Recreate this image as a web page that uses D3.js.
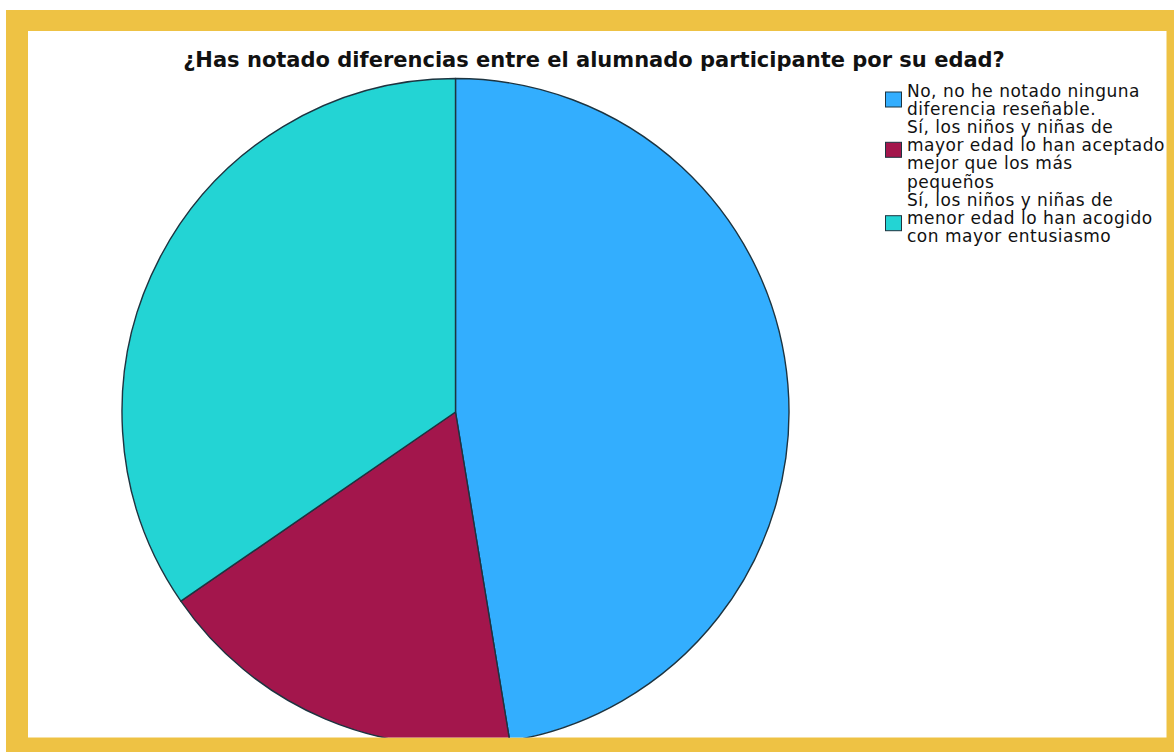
<!DOCTYPE html>
<html>
<head>
<meta charset="utf-8">
<script src="https://cdn.jsdelivr.net/npm/d3@7"></script>
<style>
  html, body { margin: 0; padding: 0; background: #ffffff; }
  svg { display: block; }
</style>
</head>
<body>
<svg id="chart" width="1174" height="752"></svg>
<script>
// Survey answers (percent of respondents)
const categories = [
  "No, no he notado ninguna diferencia reseñable.",
  "Sí, los niños y niñas de mayor edad lo han aceptado mejor que los más pequeños",
  "Sí, los niños y niñas de menor edad lo han acogido con mayor entusiasmo"
];
const values = [47.4, 18.0, 34.6];
const legendLines = [
  ["No, no he notado ninguna", "diferencia reseñable."],
  ["Sí, los niños y niñas de", "mayor edad lo han aceptado", "mejor que los más", "pequeños"],
  ["Sí, los niños y niñas de", "menor edad lo han acogido", "con mayor entusiasmo"]
];
const colors = ["#33aefe", "#a3164c", "#23d4d4"];
const title = "¿Has notado diferencias entre el alumnado participante por su edad?";

const svg = d3.select("#chart");
const W = 1174, H = 752;

// frame: yellow band with white panel inside
const panel = { x0: 28, y0: 31, x1: 1166.5, y1: 737.5 };
svg.append("rect").attr("x", 6).attr("y", 10).attr("width", W - 6).attr("height", H - 10)
  .attr("fill", "#eec244");
svg.append("rect").attr("x", panel.x0).attr("y", panel.y0)
  .attr("width", panel.x1 - panel.x0).attr("height", panel.y1 - panel.y0)
  .attr("fill", "#ffffff");

svg.append("clipPath").attr("id", "panelClip")
  .append("rect").attr("x", panel.x0).attr("y", panel.y0)
  .attr("width", panel.x1 - panel.x0).attr("height", panel.y1 - panel.y0);

// pie
const cx = 455.5, cy = 412, r = 333.5;
const color = d3.scaleOrdinal().domain(categories).range(colors);
const pie = d3.pie().sort(null).value(d => d.value);
const arc = d3.arc().innerRadius(0).outerRadius(r);
const data = categories.map((c, i) => ({ cat: c, value: values[i] }));

const g = svg.append("g").attr("clip-path", "url(#panelClip)")
  .append("g").attr("transform", `translate(${cx},${cy})`);
g.selectAll("path").data(pie(data)).join("path")
  .attr("d", arc)
  .attr("fill", d => color(d.data.cat))
  .attr("stroke", "#1d3440")
  .attr("stroke-width", 1.4)
  .attr("stroke-linejoin", "round");

// title
svg.append("text")
  .attr("x", 594).attr("y", 67)
  .attr("text-anchor", "middle")
  .attr("font-family", "DejaVu Sans, sans-serif")
  .attr("font-weight", "bold")
  .attr("font-size", 21)
  .attr("fill", "#111111")
  .text(title);

// legend
const lineH = 18.1;
const firstBase = 97;
const textX = 907;
const lg = svg.append("g").attr("font-family", "DejaVu Sans, sans-serif")
  .attr("font-size", 17).attr("letter-spacing", 0.5).attr("fill", "#111111");
let lineIdx = 0;
const swatchLine = [0, 1, 1]; // line within each entry the swatch sits beside
const swatchOffset = [-5, -9, -8];
legendLines.forEach((lines, i) => {
  const startIdx = lineIdx;
  lines.forEach(t => {
    lg.append("text").attr("x", textX).attr("y", firstBase + lineIdx * lineH).text(t);
    lineIdx++;
  });
  const base = firstBase + (startIdx + swatchLine[i]) * lineH;
  lg.append("rect")
    .attr("x", 885.5).attr("y", base + swatchOffset[i])
    .attr("width", 16).attr("height", 15)
    .attr("fill", color(categories[i]))
    .attr("stroke", "#1d3440").attr("stroke-width", 1);
});
</script>
</body>
</html>
